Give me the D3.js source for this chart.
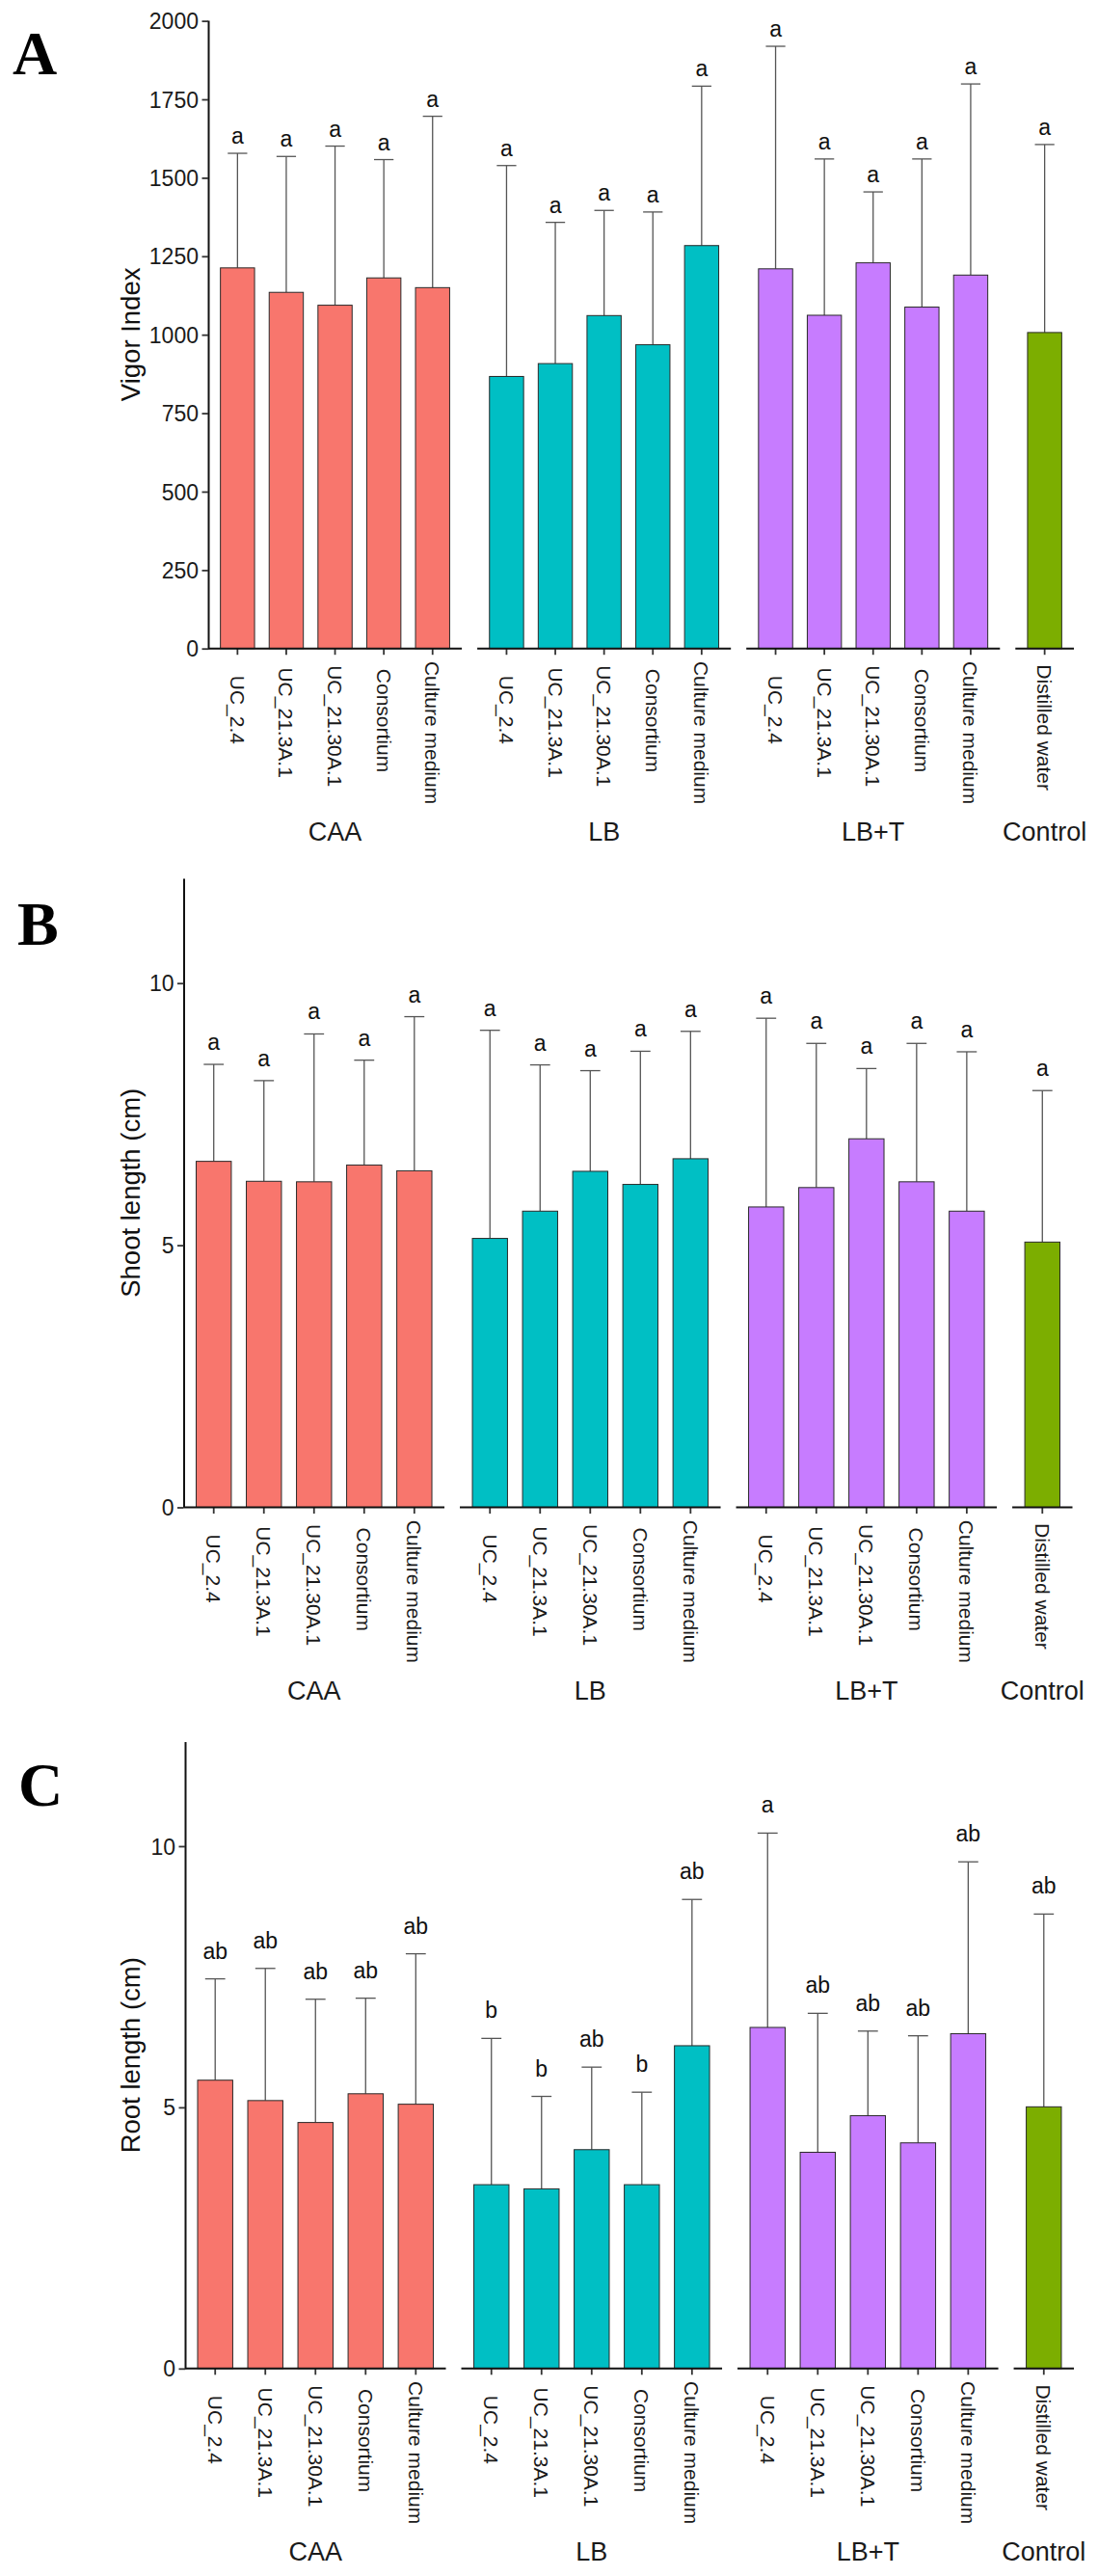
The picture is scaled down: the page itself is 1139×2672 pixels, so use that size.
<!DOCTYPE html>
<html>
<head>
<meta charset="utf-8">
<script src="https://cdn.jsdelivr.net/npm/d3@7"></script>
<style>
  html, body { margin: 0; padding: 0; background: #fff; }
  text { font-family: "Liberation Sans", Arial, Helvetica, sans-serif; }
</style>
</head>
<body>
<svg id="chart" width="1139" height="2672"></svg>
<script>
// ---------- data ----------
const groups = ["CAA", "LB", "LB+T", "Control"];
const treatments = ["UC_2.4", "UC_21.3A.1", "UC_21.30A.1", "Consortium", "Culture medium"];
const controlTreatments = ["Distilled water"];
const groupColors = ["#F8766D", "#00BFC4", "#C77CFF", "#7CAE00"];

// order: CAA x5, LB x5, LB+T x5, Control x1
const vigorMean = [1213, 1135, 1094, 1181, 1150, 867, 908, 1061, 968, 1284, 1210, 1062, 1229, 1088, 1190, 1007];
const vigorSD   = [365, 433, 507, 377, 546, 672, 450, 335, 423, 508, 709, 498, 226, 472, 609, 599];
const vigorLetters = ["a","a","a","a","a","a","a","a","a","a","a","a","a","a","a","a"];
const vigorTicks = [0, 250, 500, 750, 1000, 1250, 1500, 1750, 2000];

const shootMean = [6.60, 6.22, 6.21, 6.53, 6.42, 5.13, 5.65, 6.41, 6.16, 6.65, 5.73, 6.10, 7.03, 6.21, 5.65, 5.06];
const shootSD   = [1.85, 1.92, 2.82, 2.00, 2.94, 3.97, 2.79, 1.92, 2.54, 2.43, 3.60, 2.75, 1.34, 2.64, 3.04, 2.89];
const shootLetters = ["a","a","a","a","a","a","a","a","a","a","a","a","a","a","a","a"];
const shootTicks = [0, 5, 10];

const rootMean = [5.52, 5.13, 4.71, 5.26, 5.06, 3.52, 3.44, 4.19, 3.52, 6.18, 6.53, 4.14, 4.84, 4.32, 6.41, 5.01];
const rootSD   = [1.94, 2.53, 2.36, 1.83, 2.88, 2.80, 1.77, 1.58, 1.77, 2.80, 3.72, 2.66, 1.62, 2.05, 3.29, 3.69];
const rootLetters = ["ab","ab","ab","ab","ab","b","b","ab","b","ab","a","ab","ab","ab","ab","ab"];
const rootTicks = [0, 5, 10];

// ---------- layout ----------
const panels = [
  { tag: "A", title: "Vigor Index", mean: vigorMean, sd: vigorSD, letters: vigorLetters, ticks: vigorTicks,
    yMax: 2002, top: 21, bottom: 672.7, left: 216, right: 1114, letterOff: 10, tagPos: [13, 77] },
  { tag: "B", title: "Shoot length (cm)", mean: shootMean, sd: shootSD, letters: shootLetters, ticks: shootTicks,
    yMax: 12, top: 911, bottom: 1563.5, left: 190.5, right: 1112.5, letterOff: 15, tagPos: [18, 980] },
  { tag: "C", title: "Root length (cm)", mean: rootMean, sd: rootSD, letters: rootLetters, ticks: rootTicks,
    yMax: 12, top: 1806.6, bottom: 2456.8, left: 192, right: 1114, letterOff: 21, tagPos: [19, 1873] }
];
const facetGap = 16;

const svg = d3.select("#chart");
svg.append("rect").attr("width", 1139).attr("height", 2672).attr("fill", "#fff");

function buildRows(p) {
  const rows = [];
  let k = 0;
  groups.forEach((g, gi) => {
    const cats = g === "Control" ? controlTreatments : treatments;
    cats.forEach(c => {
      rows.push({ group: g, gi, cat: c, mean: p.mean[k], sd: p.sd[k], letter: p.letters[k] });
      k++;
    });
  });
  return rows;
}

panels.forEach(p => {
  const g = svg.append("g");
  const rows = buildRows(p);
  const y = d3.scaleLinear().domain([0, p.yMax]).range([p.bottom, p.top]);

  // facet widths proportional to number of categories + 0.2 (ggplot expansion 0.6 each side)
  const nCats = groups.map(gr => gr === "Control" ? controlTreatments.length : treatments.length);
  const totalUnits = d3.sum(nCats, n => n + 0.2);
  const step = (p.right - p.left - facetGap * (groups.length - 1)) / totalUnits;

  let x0 = p.left;
  const facets = groups.map((gr, gi) => {
    const cats = gr === "Control" ? controlTreatments : treatments;
    const w = (cats.length + 0.2) * step;
    const sx = d3.scaleBand().domain(cats).range([x0, x0 + w]).paddingInner(0).paddingOuter(0.1);
    const f = { name: gr, gi, cats, sx, x0, x1: x0 + w };
    x0 += w + facetGap;
    return f;
  });

  facets.forEach(f => {
    const fr = rows.filter(r => r.gi === f.gi);
    const bw = f.sx.bandwidth();
    const cx = d => f.sx(d.cat) + bw / 2;

    // error bars (upper part)
    g.selectAll(null).data(fr).enter().append("line")
      .attr("x1", cx).attr("x2", cx)
      .attr("y1", d => y(d.mean)).attr("y2", d => y(d.mean + d.sd))
      .attr("stroke", "#555").attr("stroke-width", 1.3);
    g.selectAll(null).data(fr).enter().append("line")
      .attr("x1", d => cx(d) - bw * 0.2).attr("x2", d => cx(d) + bw * 0.2)
      .attr("y1", d => y(d.mean + d.sd)).attr("y2", d => y(d.mean + d.sd))
      .attr("stroke", "#555").attr("stroke-width", 1.3);

    // bars
    g.selectAll(null).data(fr).enter().append("rect")
      .attr("x", d => cx(d) - bw * 0.35)
      .attr("width", bw * 0.7)
      .attr("y", d => y(d.mean))
      .attr("height", d => y(0) - y(d.mean))
      .attr("fill", groupColors[f.gi])
      .attr("stroke", "#2a2a2a").attr("stroke-width", 1);

    // significance letters
    g.selectAll(null).data(fr).enter().append("text")
      .attr("x", cx)
      .attr("y", d => y(d.mean + d.sd) - p.letterOff)
      .attr("text-anchor", "middle")
      .attr("font-size", 23)
      .attr("fill", "#111")
      .text(d => d.letter);

    // x axis per facet
    const ax = g.append("g").attr("transform", `translate(0,${p.bottom})`)
      .call(d3.axisBottom(f.sx).tickSize(6.5).tickSizeOuter(0).tickFormat(""));
    ax.select(".domain").remove();
    ax.selectAll(".tick line").attr("stroke", "#333").attr("stroke-width", 1.8);
    g.append("line").attr("x1", f.x0).attr("x2", f.x1)
      .attr("y1", p.bottom).attr("y2", p.bottom)
      .attr("stroke", "#111").attr("stroke-width", 2);

    // rotated tick labels
    f.cats.forEach(c => {
      const t = g.append("text")
        .attr("transform", `translate(${f.sx(c) + bw / 2},${p.bottom + 41.7}) rotate(90)`)
        .attr("dominant-baseline", "central")
        .attr("font-size", 21)
        .attr("fill", "#1a1a1a")
        .text(c);
      const len = t.node().getComputedTextLength();
      t.attr("x", -0.192 * len);
    });

    // facet (group) label
    g.append("text")
      .attr("x", (f.x0 + f.x1) / 2)
      .attr("y", p.bottom + 190)
      .attr("text-anchor", "middle")
      .attr("dominant-baseline", "central")
      .attr("font-size", 27)
      .attr("fill", "#1a1a1a")
      .text(f.name);
  });

  // y axis
  const ya = g.append("g").attr("transform", `translate(${p.left},0)`)
    .call(d3.axisLeft(y).tickValues(p.ticks).tickFormat(d3.format("d"))
      .tickSize(6.5).tickSizeOuter(0).tickPadding(3.5));
  ya.select(".domain").attr("stroke", "#111").attr("stroke-width", 2);
  ya.selectAll(".tick line").attr("stroke", "#333").attr("stroke-width", 1.8);
  ya.selectAll(".tick text").attr("font-size", 23).attr("fill", "#1a1a1a").attr("dy", "0.35em");

  // y title
  g.append("text")
    .attr("transform", `translate(135,${(p.top + p.bottom) / 2}) rotate(-90)`)
    .attr("text-anchor", "middle")
    .attr("dominant-baseline", "central")
    .attr("font-size", 27.5)
    .attr("fill", "#111")
    .text(p.title);

  // panel tag
  g.append("text")
    .attr("x", p.tagPos[0]).attr("y", p.tagPos[1])
    .style("font-family", "'Liberation Serif', 'Times New Roman', serif")
    .attr("font-weight", "bold")
    .attr("font-size", 64)
    .attr("fill", "#000")
    .text(p.tag);
});
</script>
</body>
</html>
